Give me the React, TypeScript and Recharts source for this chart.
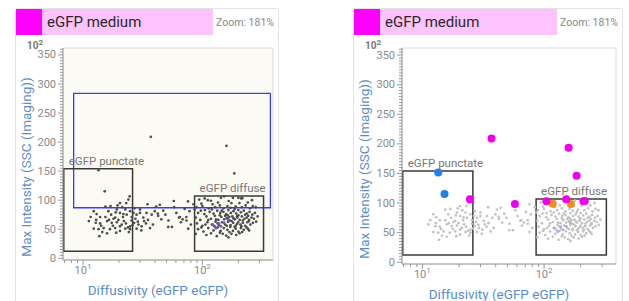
import React from 'react';
import { ScatterChart, Scatter, XAxis, YAxis, ReferenceArea, CartesianGrid } from 'recharts';

const FONT = 'Roboto, "Noto Sans", Arial, sans-serif';

// ---------- data ----------
const panelTitle = 'eGFP medium';
const zoomText = 'Zoom: 181%';
const xAxisTitle = 'Diffusivity (eGFP eGFP)';
const yAxisTitle = 'Max Intensity (SSC (Imaging))';

const xDomain: [number, number] = [6.8, 390];
const yDomain: [number, number] = [-3, 362];
const xTicks = [7, 8, 9, 10, 20, 30, 40, 50, 60, 70, 80, 90, 100, 200, 300];
const xMajor = [10, 100];
const xMajorExp = ['1', '2'];
const yTicks = [0, 5, 10, 15, 20, 25, 30, 35, 40, 45, 50, 55, 60, 65, 70, 75, 80, 85, 90, 95, 100,
  105, 110, 115, 120, 125, 130, 135, 140, 145, 150, 155, 160, 165, 170, 175, 180, 185, 190, 195, 200,
  205, 210, 215, 220, 225, 230, 235, 240, 245, 250, 255, 260, 265, 270, 275, 280, 285, 290, 295, 300,
  305, 310, 315, 320, 325, 330, 335, 340, 345, 350, 355, 360];

const gateNames = ['eGFP punctate', 'eGFP diffuse'];
const gateX1 = [6.9, 86];
const gateX2 = [26, 325];
const gateY1 = [12, 12];
const gateY2 = [154, 107];
const blueGate = { x1: 8.35, x2: 371, y1: 87, y2: 284 };

const punctateCells: [number, number][] = [
  [24, 101], [20.4, 95], [19.5, 91], [15.4, 89], [12.3, 81], [16.3, 81], [19.2, 84], [22.6, 84],
  [24.8, 81], [17.2, 75], [20.4, 78], [23.2, 75], [13.9, 71], [15.4, 71], [18.6, 70], [21.6, 71],
  [25.6, 71], [28.1, 75], [30, 78], [32, 70], [34, 78], [37.6, 75], [42.6, 73], [11.2, 64],
  [12.8, 61], [13.9, 60], [15.9, 64], [17.4, 61], [19.2, 62], [21.1, 58], [22.9, 60], [24.8, 55],
  [26.8, 61], [29.1, 58], [31, 55], [33.7, 60], [36.4, 52], [12.3, 51], [13.5, 50], [14.9, 52],
  [16.8, 50], [18.6, 52], [20.4, 47], [22.6, 51], [24.8, 50], [28.1, 51], [14.5, 45], [13.7, 38],
  [15.9, 43], [20.4, 55], [18, 68], [11.6, 71], [30, 84], [34.7, 93], [41, 89], [44, 92],
  [39.9, 81], [16.5, 66], [19.8, 66], [22, 64], [25.5, 65], [27.5, 68], [14.2, 56], [17.8, 56],
  [23.8, 53], [26, 57], [12.9, 66], [21.3, 88], [18.8, 79], [26.5, 78], [32.5, 64], [35, 66],
  [38.5, 58], [24.2, 45], [19, 44], [28.8, 63], [30.8, 48], [17, 90], [23, 95], [27, 86],
  [13, 76], [21.8, 76], [42.3, 77],
];

const middleCells: [number, number][] = [
  [75.8, 98], [51.7, 54], [63.7, 70], [68.3, 67], [73.4, 71], [78, 81], [60.5, 78], [49, 75],
  [45.3, 67], [47, 82], [66, 62], [71, 85], [58, 88], [80, 58], [76, 51], [84, 93], [52, 65],
  [55.5, 54], [64.8, 71], [73.5, 65],
];

const diffuseCells: [number, number][] = [
  [94, 101], [111, 100], [143, 104], [180, 104], [200, 104], [122, 93], [89, 88], [204, 95],
  [240, 96], [264, 90], [135, 96], [175, 95], [98, 94], [260, 100],
  [86, 84], [100, 90], [113, 86], [128, 88], [140, 91], [150, 86], [162, 90], [172, 87],
  [190, 89], [214, 88], [230, 91], [250, 86], [280, 88], [105, 83], [145, 82],
  [92, 78], [104, 76], [115, 80], [124, 77], [133, 82], [141, 78], [150, 80], [158, 76],
  [165, 83], [173, 78], [182, 81], [192, 77], [200, 83], [210, 79], [222, 82], [236, 77],
  [248, 80], [262, 75], [275, 78], [120, 84], [186, 85], [228, 75], [97, 82], [155, 73],
  [168, 71], [195, 72],
  [88, 70], [96, 66], [108, 72], [118, 68], [127, 73], [136, 66], [144, 71], [152, 67],
  [160, 69], [170, 65], [178, 72], [187, 67], [196, 70], [205, 66], [214, 72], [225, 68],
  [235, 70], [246, 66], [258, 70], [270, 68], [290, 72], [140, 74], [200, 74], [218, 65],
  [130, 67], [163, 74], [182, 69], [242, 73], [112, 66],
  [90, 60], [100, 56], [110, 62], [120, 58], [129, 63], [138, 57], [146, 62], [155, 58],
  [164, 63], [172, 57], [181, 61], [190, 56], [199, 62], [208, 58], [218, 61], [228, 56],
  [238, 62], [252, 58], [265, 61], [282, 63], [134, 60], [176, 64], [212, 55], [245, 64],
  [106, 58], [160, 56], [195, 59],
  [92, 50], [102, 46], [112, 52], [124, 48], [134, 53], [142, 47], [151, 52], [162, 49],
  [171, 54], [180, 47], [190, 51], [200, 46], [210, 52], [222, 49], [234, 53], [246, 48],
  [126, 55], [168, 45], [215, 45], [98, 53], [186, 54], [240, 51],
  [108, 40], [118, 43], [132, 38], [148, 42], [158, 39], [175, 42], [192, 40], [205, 43],
  [165, 36], [140, 44], [88, 42],
];

const purpleCells: [number, number][] = [
  [122, 58], [143, 55], [152, 61], [164, 67], [130, 52], [137, 60],
];

const magentaCells: [number, number][] = [
  [37, 209], [159, 193.5], [185, 146], [24.6, 106.6], [57.6, 98.6], [104.5, 103],
  [152, 106.6], [211, 103], [216, 103.5],
];
const blueCells: [number, number][] = [[13.5, 151.5], [15.2, 115.3]];
const orangeCells: [number, number][] = [[117.8, 99], [166, 98.6]];

// ---------- helpers ----------
const toPts = (arr: [number, number][]) => arr.map(([x, y]) => ({ x, y }));
const basePts = toPts([...punctateCells, ...middleCells, ...diffuseCells]);
const purplePts = toPts(purpleCells);
const magentaPts = toPts(magentaCells);
const bluePts = toPts(blueCells);
const orangePts = toPts(orangeCells);
const highlightPts = [...magentaPts, ...bluePts, ...orangePts];

const dot = (r: number, fill: string) => (p: any) =>
  p.cx == null ? <g /> : <circle cx={p.cx} cy={p.cy} r={r} fill={fill} />;

const YTick = (props: any) => {
  const { x, y, payload } = props;
  const v = payload.value;
  const major = v % 50 === 0;
  return (
    <g>
      <line x1={x - (major ? 5 : 3)} x2={x} y1={y} y2={y} stroke="#999" strokeWidth={1} />
      {major && (
        <text x={x - 7} y={y} textAnchor="end" dominantBaseline="central" fontSize={11}
          fill="#8a8a8a" fontFamily={FONT}>{v}</text>
      )}
    </g>
  );
};

const XTick = (props: any) => {
  const { x, y, payload } = props;
  const v = payload.value;
  const mi = xMajor.indexOf(v);
  return (
    <g>
      <line x1={x} x2={x} y1={y} y2={y + (mi >= 0 ? 5 : 3)} stroke="#999" strokeWidth={1} />
      {mi >= 0 && (
        <text x={x} y={y + 14} textAnchor="middle" fontSize={11} fill="#8a8a8a" fontFamily={FONT}>
          <tspan>10</tspan>
          <tspan dy={-5} fontSize={8}>{xMajorExp[mi]}</tspan>
        </text>
      )}
    </g>
  );
};

const YLabel = (props: any) => {
  const vb = props.viewBox || {};
  const cx = vb.x + 10;
  const cy = vb.y + vb.height / 2 + 13;
  return (
    <g>
      <text x={cx} y={cy} transform={`rotate(-90, ${cx}, ${cy})`} textAnchor="middle"
        dominantBaseline="central" fontSize={13.5} fill="#5b8ec8" fontFamily={FONT}>{yAxisTitle}</text>
      <text x={vb.x + 11} y={vb.y + 1} fontSize={10} fontWeight="bold" fill="#777" fontFamily={FONT}>
        <tspan>10</tspan>
        <tspan dy={-4} fontSize={8}>2</tspan>
      </text>
    </g>
  );
};

const XLabel = (props: any) => {
  const vb = props.viewBox || {};
  return (
    <text x={vb.x + vb.width / 2 - 10} y={vb.y + 30} textAnchor="middle" dominantBaseline="central"
      fontSize={13.5} fill="#5b8ec8" fontFamily={FONT}>{xAxisTitle}</text>
  );
};

const gateLabel = (name: string) => (props: any) => {
  const vb = props.viewBox || {};
  return (
    <text x={vb.x + 5} y={vb.y - 8} dominantBaseline="central" fontSize={11.5} fill="#777"
      fontFamily={FONT}>{name}</text>
  );
};

const Header = ({ width }: { width: number }) => (
  <div style={{ display: 'flex', alignItems: 'center', height: 26, width }}>
    <div style={{ width: 26, height: 26, background: '#ff00ff', flex: 'none' }} />
    <div style={{
      flex: 1, height: 26, background: '#fdc3fd', display: 'flex', alignItems: 'center',
      paddingLeft: 5, fontSize: 15, color: '#2a2a2a', fontFamily: FONT,
    }}>{panelTitle}</div>
    <div style={{ marginLeft: 3, paddingRight: 4, fontSize: 10.5, color: '#888', fontFamily: FONT }}>
      {zoomText}
    </div>
  </div>
);

const Panel = ({ left, cardWidth, chartWidth, chartHeight, yAxisWidth, rightMargin, bg, colored }: any) => (
  <>
    <div style={{
      position: 'absolute', left: left - 1, top: 8, width: cardWidth + 2, height: 310,
      border: '1px solid #e2e2e2', borderRadius: 3, boxSizing: 'border-box', background: '#fff',
    }} />
    <div style={{ position: 'absolute', left, top: 9 }}>
      <Header width={cardWidth} />
    </div>
    <div style={{ position: 'absolute', left, top: 36, width: chartWidth, height: chartHeight }}>
      <ScatterChart width={chartWidth} height={chartHeight}
        margin={{ top: 12, right: rightMargin, bottom: 0, left: 0 }}>
        <CartesianGrid horizontal={false} vertical={false} fill={bg} />
        <XAxis type="number" dataKey="x" scale="log" domain={xDomain} allowDataOverflow
          ticks={xTicks} interval={0} height={40} tickSize={0} tickMargin={0} tickLine={false}
          axisLine={{ stroke: '#999' }} tick={<XTick />} label={(p: any) => <XLabel {...p} />} />
        <YAxis type="number" dataKey="y" domain={yDomain} allowDataOverflow ticks={yTicks}
          interval={0} width={yAxisWidth} tickSize={0} tickMargin={0} tickLine={false}
          axisLine={{ stroke: '#999' }} tick={<YTick />} label={(p: any) => <YLabel {...p} />} />
        <ReferenceArea x1={xDomain[0]} x2={xDomain[1]} y1={yDomain[0]} y2={yDomain[1]}
          fill="none" stroke="#dcdcdc" strokeWidth={1} ifOverflow="visible" />
        {!colored && (
          <ReferenceArea x1={blueGate.x1} x2={blueGate.x2} y1={blueGate.y1} y2={blueGate.y2}
            fill="none" fillOpacity={0} stroke="#3a3aff" strokeWidth={1.3} />
        )}
        {gateNames.map((n, i) => (
          <ReferenceArea key={n} x1={gateX1[i]} x2={gateX2[i]} y1={gateY1[i]} y2={gateY2[i]}
            fill="none" fillOpacity={0} stroke="#3a3a3a" strokeWidth={1.5} label={gateLabel(n)} />
        ))}
        <Scatter data={basePts} isAnimationActive={false}
          shape={dot(1.35, colored ? '#c2c2c2' : '#4d4d4d')} />
        <Scatter data={purplePts} isAnimationActive={false}
          shape={dot(1.5, colored ? '#b9a8e2' : '#7a4fc8')} />
        {colored ? (
          <>
            <Scatter data={bluePts} isAnimationActive={false} shape={dot(4, '#1f80e6')} />
            <Scatter data={orangePts} isAnimationActive={false} shape={dot(4, '#f08c1c')} />
            <Scatter data={magentaPts} isAnimationActive={false} shape={dot(4, '#ee00ee')} />
          </>
        ) : (
          <Scatter data={highlightPts} isAnimationActive={false} shape={dot(1.35, '#4d4d4d')} />
        )}
      </ScatterChart>
    </div>
  </>
);

export default function App() {
  return (
    <div style={{
      position: 'absolute', left: 0, top: 0, width: 629, height: 301, overflow: 'hidden',
      background: '#fff', fontFamily: FONT,
    }}>
      <Panel left={16} cardWidth={262} chartWidth={262} chartHeight={264} yAxisWidth={47}
        rightMargin={5} bg="#fbfbf4" colored={false} />
      <Panel left={354} cardWidth={268} chartWidth={268} chartHeight={268} yAxisWidth={48}
        rightMargin={6} bg="#ffffff" colored={true} />
    </div>
  );
}
